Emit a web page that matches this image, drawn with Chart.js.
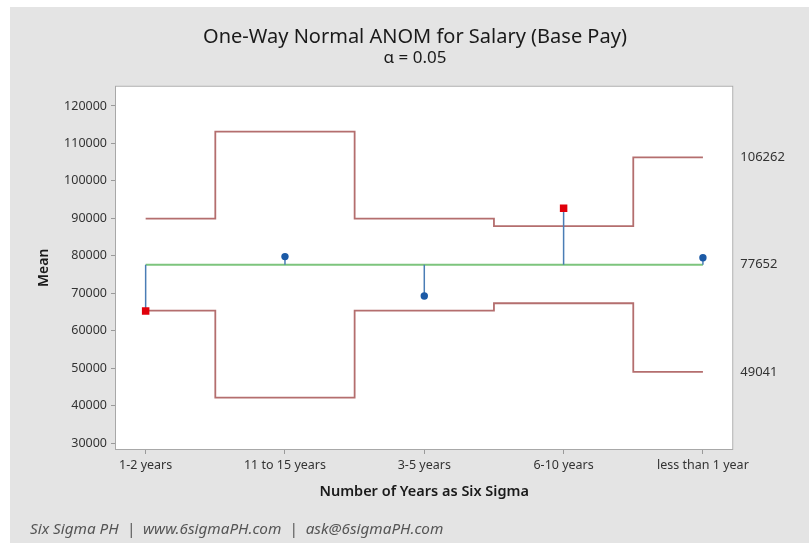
<!DOCTYPE html>
<html>
<head>
<meta charset="utf-8">
<script src="https://cdn.jsdelivr.net/npm/chart.js@4.4.1/dist/chart.umd.min.js"></script>
<style>
  html, body { margin: 0; background: #fff; }
  #panel { position: absolute; left: 10px; top: 7px; width: 799px; height: 536px; background: #e4e4e4; }
</style>
</head>
<body>
<div id="panel"><canvas id="anom-chart"></canvas></div>
<script>
// ===== ANOM data =====
const categories = ['1-2 years', '11 to 15 years', '3-5 years', '6-10 years', 'less than 1 year'];
const groupMeans = [65300, 79800, 69300, 92700, 79500];
const upperLimits = [89920, 113130, 89920, 87950, 106262];
const lowerLimits = [65384, 42174, 65384, 67354, 49041];
const centerLine = 77652;
const yTicks = [30000, 40000, 50000, 60000, 70000, 80000, 90000, 100000, 110000, 120000];

const FONT = "'Noto Sans', 'Open Sans', sans-serif";
const LIMIT_COLOR = '#b46e6e';
const CENTER_COLOR = '#7dc47d';
const BLUE = '#1c5aa6';
const RED = '#e0000b';

// a mean outside its decision limits is flagged red
const outside = groupMeans.map((m, i) => m < lowerLimits[i] || m > upperLimits[i]);
const last = categories.length - 1;
// values printed on the right edge: last upper limit, center, last lower limit
const edgeValues = [upperLimits[last], centerLine, lowerLimits[last]];

const toPoints = arr => arr.map((v, i) => ({ x: i, y: v }));

// vertical stems from the center line to each group mean
const stems = groupMeans.map((m, i) => ({
    data: [{ x: i, y: centerLine }, { x: i, y: m }],
    borderColor: '#4a7db5',
    borderWidth: 1.5,
    pointRadius: 0
}));

// white plot area, its frame and the footer line
const anomDecor = {
    id: 'anomDecor',
    beforeDraw(chart) {
        const { ctx, chartArea: a } = chart;
        ctx.save();
        ctx.fillStyle = '#fff';
        ctx.fillRect(a.left, a.top, a.right - a.left, a.bottom - a.top);
        ctx.restore();
    },
    beforeDatasetsDraw(chart) {
        const { ctx, chartArea: a } = chart;
        ctx.save();
        ctx.strokeStyle = '#a8a8a8';
        ctx.lineWidth = 1;
        ctx.strokeRect(a.left + 0.5, a.top + 0.5, a.right - a.left - 1, a.bottom - a.top - 1);
        ctx.restore();
    },
    afterDraw(chart) {
        const { ctx } = chart;
        ctx.save();
        ctx.font = `italic 15.3px ${FONT}`;
        ctx.fillStyle = '#555';
        ctx.textAlign = 'left';
        ctx.textBaseline = 'middle';
        ctx.fillText('Six Sigma PH  |  www.6sigmaPH.com  |  ask@6sigmaPH.com', 20, 523);
        ctx.restore();
    }
};

new Chart(document.getElementById('anom-chart'), {
    type: 'line',
    data: {
        datasets: [
            {
                data: toPoints(groupMeans),
                showLine: false,
                pointStyle: outside.map(o => o ? 'rect' : 'circle'),
                pointRadius: outside.map(o => o ? 5.3 : 3.7),
                pointBackgroundColor: outside.map(o => o ? RED : BLUE),
                pointBorderColor: outside.map(o => o ? RED : BLUE),
                pointBorderWidth: 0
            },
            ...stems,
            {
                data: [{ x: 0, y: centerLine }, { x: last, y: centerLine }],
                borderColor: CENTER_COLOR,
                borderWidth: 2,
                pointRadius: 0
            },
            {
                data: toPoints(upperLimits),
                stepped: 'middle',
                borderColor: LIMIT_COLOR,
                borderWidth: 1.8,
                pointRadius: 0
            },
            {
                data: toPoints(lowerLimits),
                stepped: 'middle',
                borderColor: LIMIT_COLOR,
                borderWidth: 1.8,
                pointRadius: 0
            }
        ]
    },
    options: {
        responsive: true,
        maintainAspectRatio: false,
        animation: false,
        layout: { padding: { left: 11, right: 0, top: 0, bottom: 0 } },
        plugins: {
            legend: { display: false },
            tooltip: { enabled: false },
            title: {
                display: true,
                text: 'One-Way Normal ANOM for Salary (Base Pay)',
                color: '#1a1a1a',
                font: { family: FONT, size: 20, weight: 'normal' },
                padding: { top: 18, bottom: 0 }
            },
            subtitle: {
                display: true,
                text: 'α = 0.05',
                color: '#1a1a1a',
                font: { family: FONT, size: 17 },
                padding: { top: -1, bottom: 17.3 }
            }
        },
        scales: {
            x: {
                type: 'linear',
                min: -0.22,
                max: 4.218,
                afterFit: s => { s.height = 93; },
                afterBuildTicks: s => { s.ticks = categories.map((c, i) => ({ value: i })); },
                border: { display: false },
                grid: { drawOnChartArea: false, drawTicks: true, tickLength: 4, color: '#9a9a9a' },
                ticks: {
                    padding: 4,
                    color: '#333',
                    font: { family: FONT, size: 12.5 },
                    callback: v => categories[v]
                },
                title: {
                    display: true,
                    text: 'Number of Years as Six Sigma',
                    color: '#1a1a1a',
                    font: { family: FONT, size: 14.5, weight: '600' },
                    padding: { top: 0, bottom: 42.5 }
                }
            },
            y: {
                min: 28200,
                max: 125400,
                afterFit: s => { s.width = 94; },
                afterBuildTicks: s => { s.ticks = yTicks.map(v => ({ value: v })); },
                border: { display: false },
                grid: { drawOnChartArea: false, drawTicks: true, tickLength: 4, color: '#9a9a9a' },
                ticks: {
                    padding: 4,
                    color: '#333',
                    font: { family: FONT, size: 12.5 },
                    callback: v => String(v)
                },
                title: {
                    display: true,
                    text: 'Mean',
                    color: '#1a1a1a',
                    font: { family: FONT, size: 14, weight: '600' },
                    padding: { top: 15, bottom: 0 }
                }
            },
            yEdge: {
                position: 'right',
                min: 28200,
                max: 125400,
                afterFit: s => { s.width = 75.7; },
                afterBuildTicks: s => { s.ticks = edgeValues.map(v => ({ value: v })); },
                border: { display: false },
                grid: { display: false, drawTicks: false, tickLength: 0 },
                ticks: {
                    padding: 7,
                    color: '#333',
                    font: { family: FONT, size: 13 },
                    callback: v => String(v)
                }
            }
        }
    },
    plugins: [anomDecor]
});
</script>
</body>
</html>
